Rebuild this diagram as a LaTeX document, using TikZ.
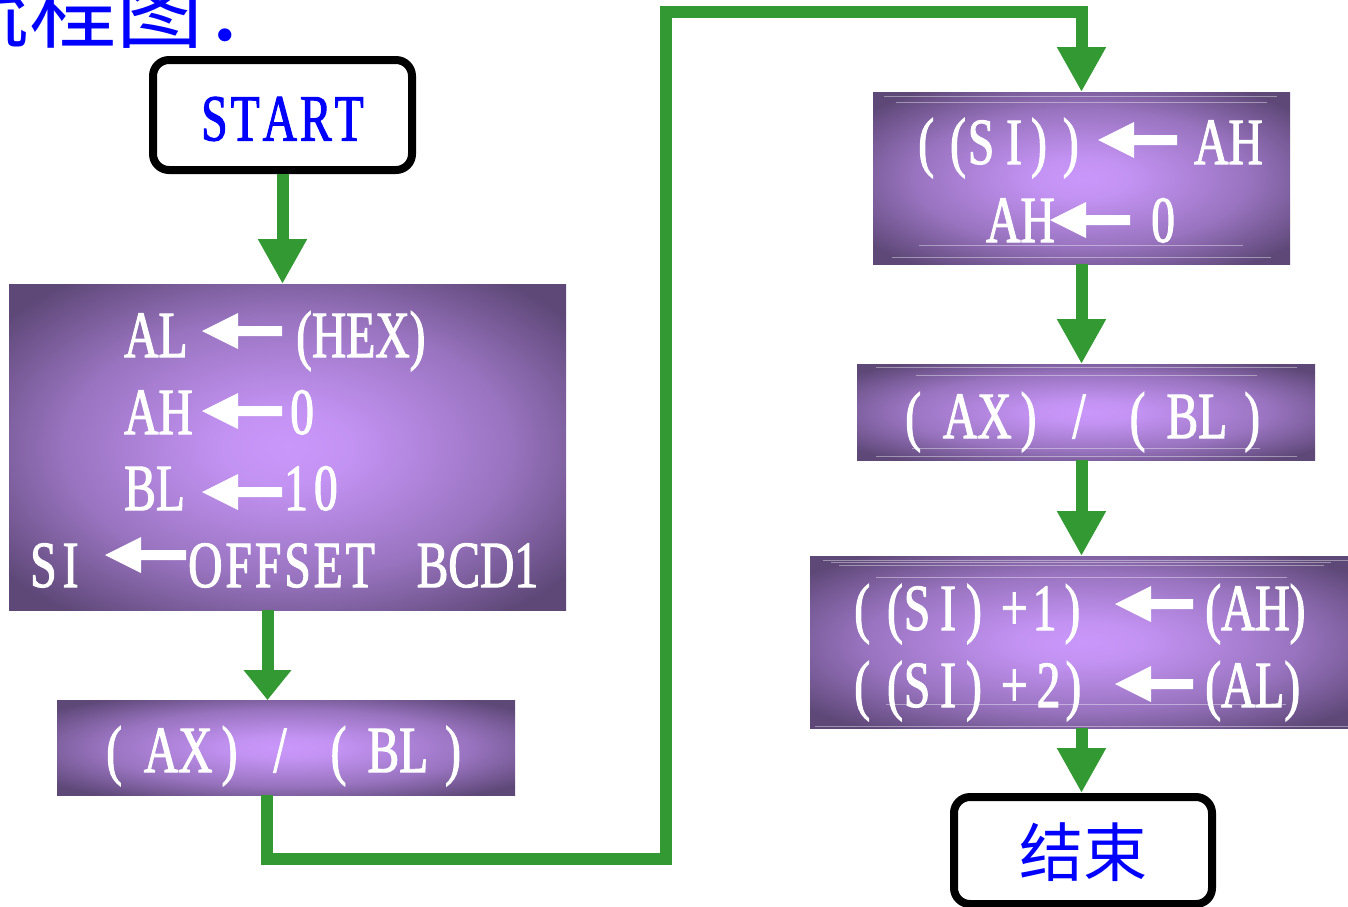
\documentclass[tikz,border=0pt]{standalone}
\usepackage{fontspec}
\usetikzlibrary{arrows.meta}
\newfontfamily\condfont[FakeStretch=0.72,FakeBold=1.5]{Liberation Serif}
\newfontfamily\cjkfont{Noto Sans CJK SC}
\definecolor{flowgreen}{HTML}{339933}
\definecolor{boxin}{HTML}{C997FA}
\definecolor{boxout}{HTML}{5E4878}
\definecolor{deepblue}{HTML}{0000FF}
\pgfdeclareradialshading{boxshade}{\pgfpoint{0bp}{0bp}}{color(0bp)=(boxin); color(6bp)=(boxin!94!boxout); color(20bp)=(boxin!55!boxout); color(32bp)=(boxout); color(50bp)=(boxout)}
\newcommand\whitearrow[3]{\fill[white] (#1,#2) -- ({#1+36},{#2-18}) -- ({#1+36},{#2-5}) -- (#3,{#2-5}) -- (#3,{#2+5}) -- ({#1+36},{#2+5}) -- ({#1+36},{#2+18}) -- cycle;}
\newcommand\divtext{(\kern22pt AX\kern9pt)\kern36pt/\kern44pt(\kern21pt BL\kern17pt)}
\tikzset{
  procbox/.style={rectangle, shade, shading=boxshade, draw=none, inner sep=0pt, outer sep=0pt},
  termbox/.style={rectangle, draw=black, line width=8pt, rounded corners=16pt, fill=white, text=deepblue, inner sep=0pt},
  opline/.style={text=white, font=\condfont\fontsize{66}{70}\selectfont, inner sep=0pt, anchor=base west},
  flow/.style={draw=flowgreen, line width=12pt, -{Triangle[width=46pt,length=45pt]}},
  flowshort/.style={draw=flowgreen, line width=12pt, -{Triangle[width=46pt,length=30pt]}},
  glint/.style={draw=white, opacity=0.4, line width=1pt}
}
\begin{document}
\begin{tikzpicture}[x=1pt, y=-1pt]
\useasboundingbox (0,0) rectangle (1348,906);
\fill[white] (0,0) rectangle (1348,906);
\clip (0,0) rectangle (1348,906);

% title (cut off at the top-left, as in the reference)
\node[font=\cjkfont\fontsize{87}{90}\selectfont, text=deepblue, inner sep=0pt, anchor=base west] (title) at (-58,41) {流程图：};

% terminal boxes
\node[termbox, font=\condfont\fontsize{66}{70}\selectfont, minimum width=259pt, minimum height=110pt, text height=51pt, text depth=0pt] (start) at (282.5,115) {S\kern3pt T\kern3pt A\kern3pt R\kern3pt T};
\node[termbox, font=\cjkfont\fontsize{64}{70}\selectfont, minimum width=258pt, minimum height=107pt, text height=52pt, text depth=0pt] (finish) at (1083,850.5) {结束};

% process boxes
\node[procbox, minimum width=557pt, minimum height=326pt] (box1) at (287.5,447) {};
\node[procbox, minimum width=458pt, minimum height=95pt] (box2) at (286,747.5) {};
\node[procbox, minimum width=417pt, minimum height=172pt] (box3) at (1081.5,178) {};
\node[procbox, minimum width=458pt, minimum height=96pt] (box4) at (1086,412) {};
\node[procbox, minimum width=540pt, minimum height=172pt] (box5) at (1080,642) {};

% faint lines inside boxes
\draw[glint] (884,96) -- (1277,96);
\draw[glint] (896,102) -- (1267,102);
\draw[glint] (919,245) -- (1243,245);
\draw[glint] (892,257) -- (1271,257);
\draw[glint] (876,367) -- (1297,367);
\draw[glint] (916,375) -- (1257,375);
\draw[glint] (912,448) -- (1260,448);
\draw[glint] (876,456) -- (1297,456);
\draw[glint] (823,560) -- (1348,560);
\draw[glint] (831,562.5) -- (1331,562.5);
\draw[glint] (839,565) -- (1324,565);
\draw[glint] (876,577) -- (1287,577);
\draw[glint] (886,704) -- (1286,704);
\draw[glint] (815,726) -- (1348,726);

% box1 text
\whitearrow{202}{331}{282}
\node[opline] (l1a) at (124,357) {AL};
\node[opline] (l1b) at (296,357) {(HEX)};
\whitearrow{202}{411}{282}
\node[opline] (l2a) at (124,434) {AH};
\node[opline] (l2b) at (290,434) {0};
\whitearrow{202}{492}{282}
\node[opline] (l3a) at (124,510) {BL};
\node[opline] (l3b) at (284,510) {1\kern6pt0};
\whitearrow{105}{555}{186}
\node[opline] (l4a) at (30,587) {S\kern6pt I};
\node[opline] (l4b) at (188,587) {O\kern3pt F\kern3pt F\kern3pt S\kern3pt E\kern3pt T\hspace{30pt} BCD1};

% box2 / box4 text
\node[opline] (d1) at (106,772) {\divtext};
\node[opline] (d2) at (905,438) {\divtext};

% box3 text
\node[opline] (m1a) at (918,164) {(\kern16pt(\kern2pt S\kern12pt I\kern9pt)\kern16pt)};
\whitearrow{1098}{140}{1177}
\node[opline] (m1b) at (1194,164) {AH};
\node[opline] (m2a) at (986,242) {AH};
\whitearrow{1050}{220}{1130}
\node[opline] (m2b) at (1151,242) {0};

% box5 text
\node[opline] (s1a) at (854,630) {(\kern17pt(\kern1pt S\kern10pt I\kern10pt)\kern19pt+\kern5pt 1\kern8pt)};
\whitearrow{1115}{604}{1193}
\node[opline] (s1b) at (1205,630) {(AH)};
\node[opline] (s2a) at (854,707) {(\kern17pt(\kern1pt S\kern10pt I\kern10pt)\kern19pt+\kern9pt 2\kern5pt)};
\whitearrow{1115}{684}{1193}
\node[opline] (s2b) at (1205,707) {(AL)};

% connectors
\coordinate (turn1) at (666,859);
\coordinate (turn2) at (666,12);
\draw[flow] (start.south) -- (start.south |- box1.north);
\draw[flowshort] ([xshift=-20pt]box1.south) -- ([xshift=-20pt]box1.south |- box2.north);
\draw[flow] ([xshift=-19pt]box2.south) |- (turn1) -- (turn2) -| (box3.north);
\draw[flow] (box3.south) -- (box3.south |- box4.north);
\draw[flow] (box3.south |- box4.south) -- (box3.south |- box5.north);
\draw[flow] (box3.south |- box5.south) -- (box3.south |- finish.north);
\end{tikzpicture}
\end{document}
